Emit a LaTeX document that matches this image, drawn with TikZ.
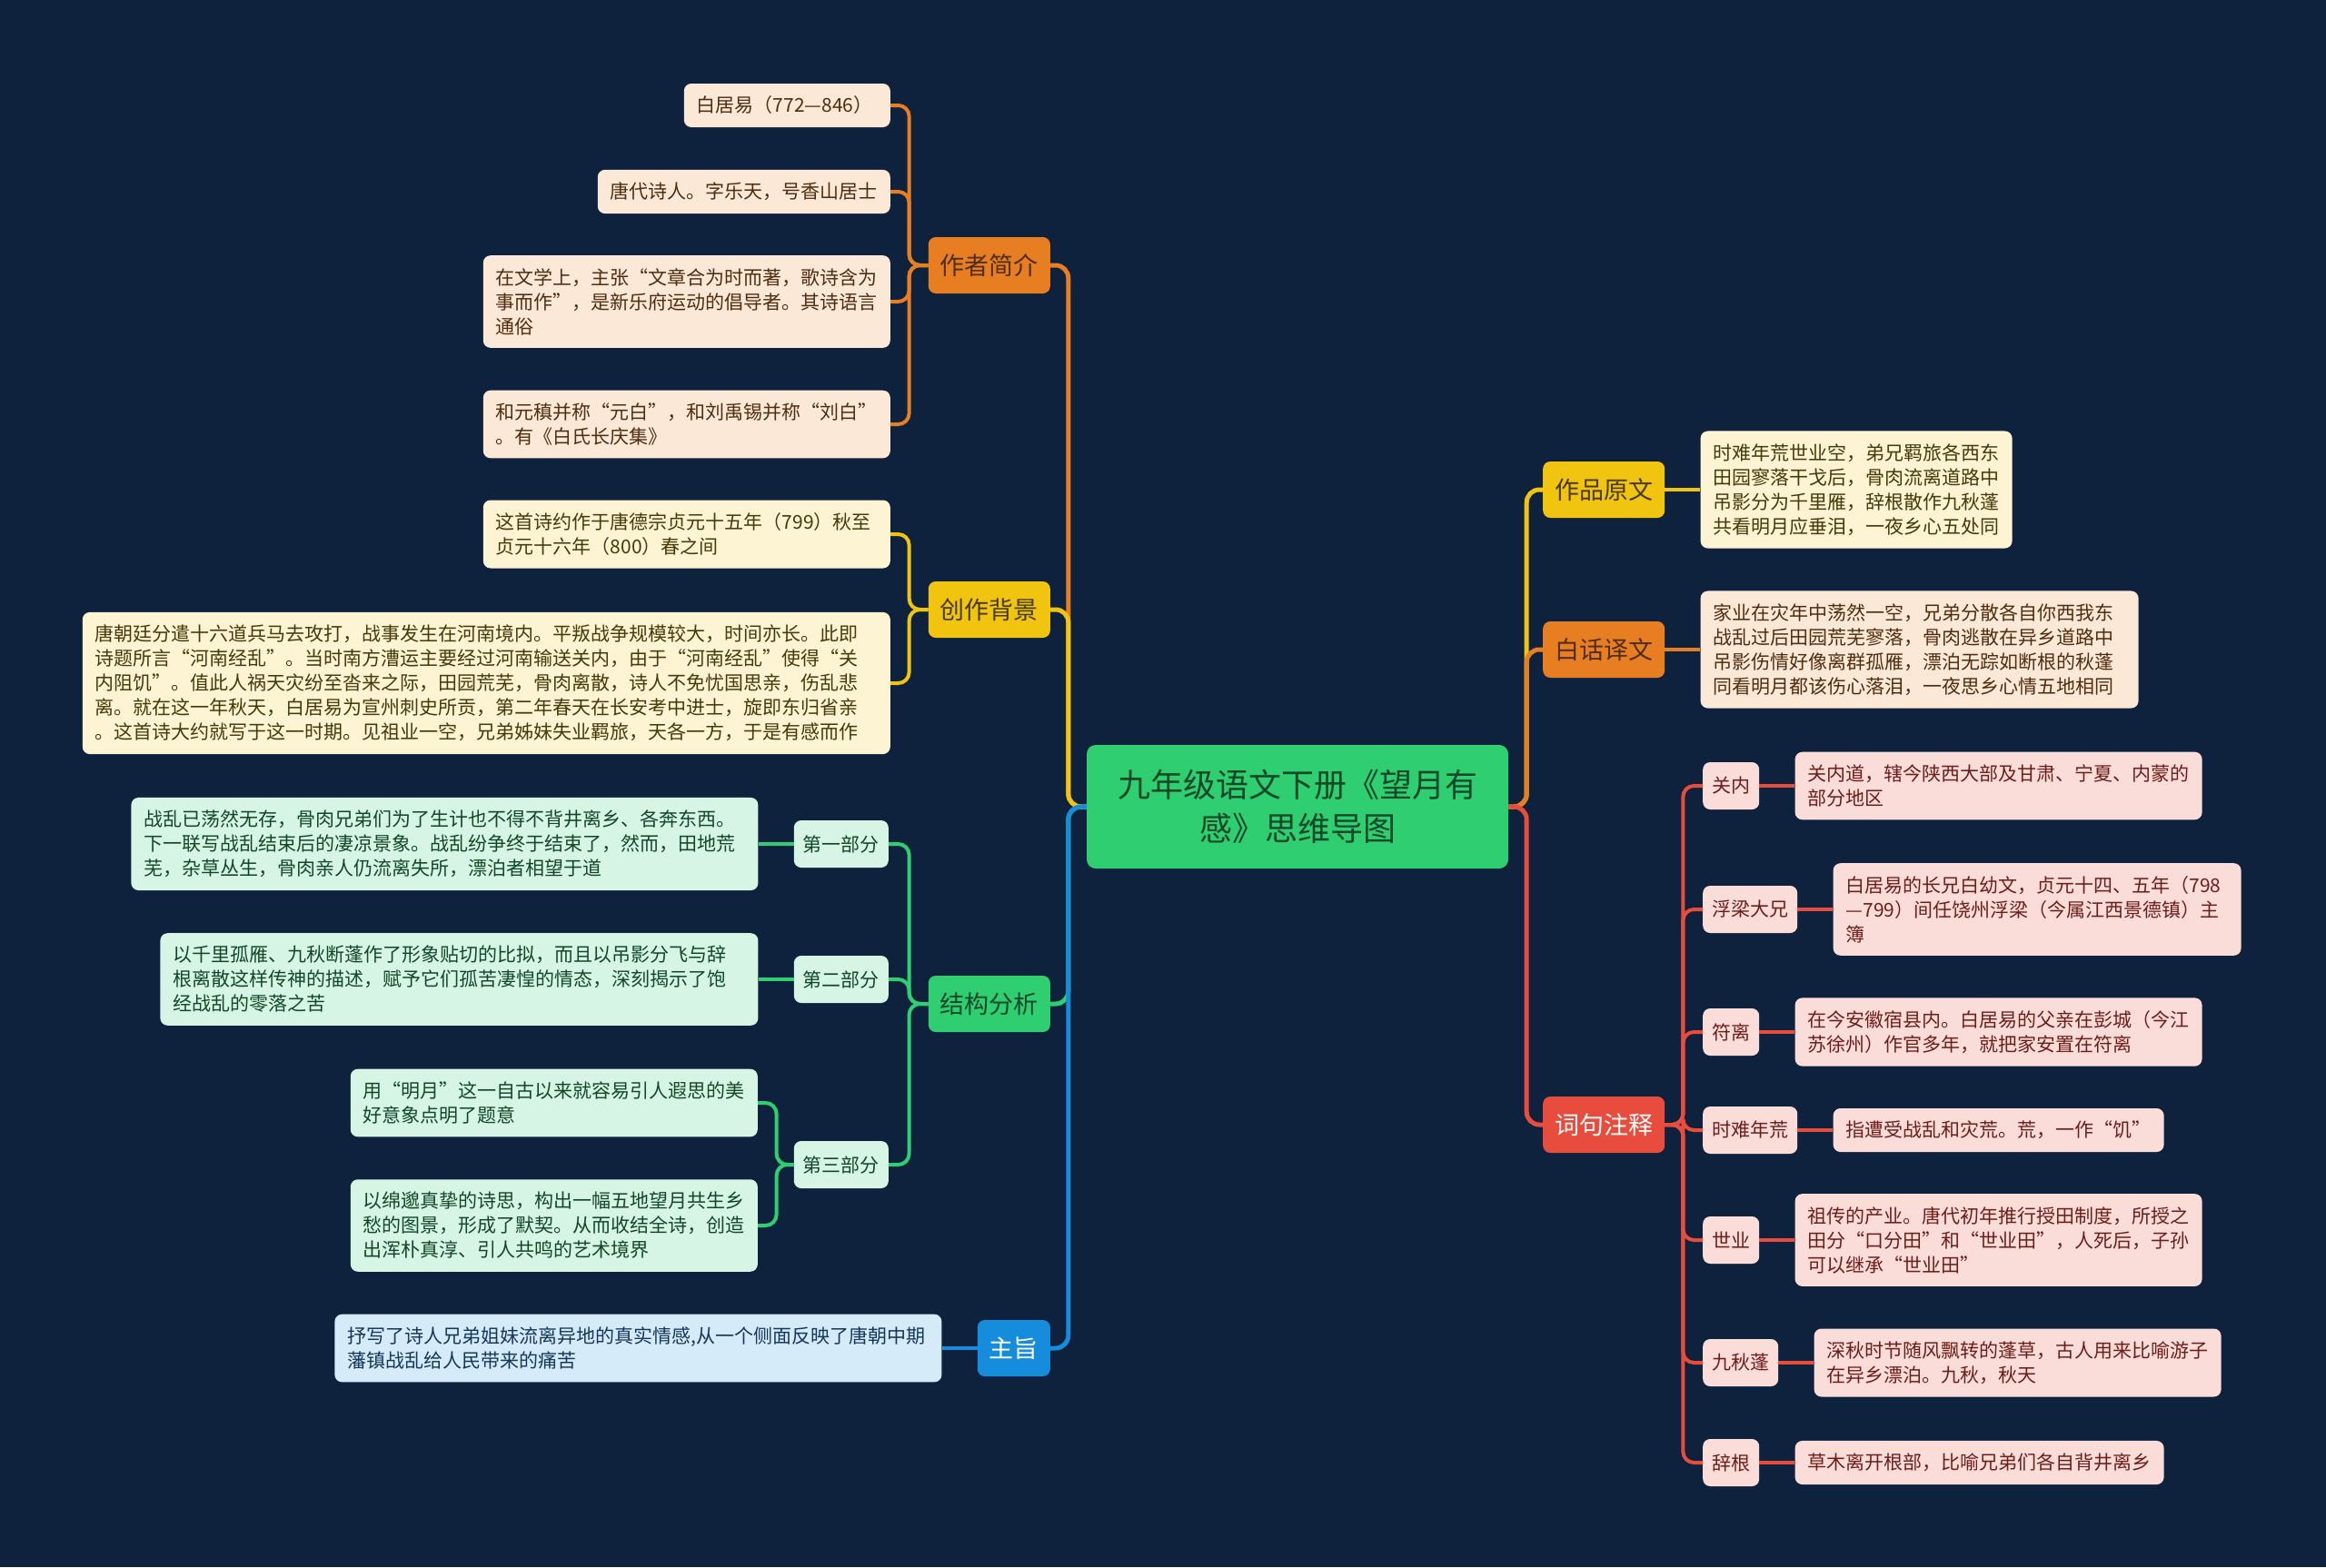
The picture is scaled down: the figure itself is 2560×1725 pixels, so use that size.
\documentclass[tikz,border=0pt]{standalone}
\usepackage{fontspec}
\setmainfont{Noto Sans CJK SC}
\usetikzlibrary{calc}
\definecolor{bgc}{RGB}{14,33,61}
\definecolor{orgc}{RGB}{231,126,34}
\definecolor{ylwc}{RGB}{241,196,15}
\definecolor{grnc}{RGB}{46,206,113}
\definecolor{bluc}{RGB}{22,140,220}
\definecolor{redc}{RGB}{231,76,60}
\definecolor{orgl}{RGB}{252,232,215}
\definecolor{ylwl}{RGB}{252,244,210}
\definecolor{grnl}{RGB}{214,245,228}
\definecolor{blul}{RGB}{214,235,249}
\definecolor{redl}{RGB}{250,220,217}
\definecolor{orgt}{RGB}{80,45,15}
\definecolor{ylwt}{RGB}{70,58,10}
\definecolor{grnt}{RGB}{18,72,40}
\definecolor{blut}{RGB}{20,55,90}
\definecolor{redt}{RGB}{110,30,25}
\begin{document}
\begin{tikzpicture}[x=1pt,y=-1pt,
  mainbox/.style={rounded corners=8pt, inner xsep=13pt, inner ysep=0pt, minimum height=62pt, font=\fontsize{27}{32}\selectfont},
  leafbox/.style={rounded corners=8pt, inner xsep=14pt, inner ysep=14pt, align=left, font=\fontsize{21}{27}\selectfont},
  termbox/.style={rounded corners=8pt, inner xsep=10pt, inner ysep=0pt, minimum height=52pt, font=\fontsize{21}{27}\selectfont},
  link/.style={line width=4pt, rounded corners=12pt},
  rootlink/.style={line width=5pt, rounded corners=14pt},
  oleaf/.style={leafbox, fill=orgl, text=orgt},
  yleaf/.style={leafbox, fill=ylwl, text=ylwt},
  gleaf/.style={leafbox, fill=grnl, text=grnt},
  bleaf/.style={leafbox, fill=blul, text=blut},
  rleaf/.style={leafbox, fill=redl, text=redt},
  gterm/.style={termbox, fill=grnl, text=grnt},
  rterm/.style={termbox, fill=redl, text=redt}
]
\fill[bgc] (0,0) rectangle (2560,1725);
\useasboundingbox (0,0) rectangle (2560,1725);

% root
\node[fill=grnc, text=grnt, rounded corners=10pt, minimum width=464pt, minimum height=136pt, align=center, font=\fontsize{36}{48}\selectfont] (root) at (1428,888) {九年级语文下册《望月有\\感》思维导图};

% main branches
\node[mainbox, fill=orgc, text=orgt, anchor=east] (zz) at (1156,292) {作者简介};
\node[mainbox, fill=ylwc, text=ylwt, anchor=east] (bj) at (1156,671) {创作背景};
\node[mainbox, fill=grnc, text=grnt, anchor=east] (jg) at (1156,1105) {结构分析};
\node[mainbox, fill=bluc, text=white, anchor=east] (zh) at (1156,1484) {主旨};
\node[mainbox, fill=ylwc, text=ylwt, anchor=west] (yw) at (1698,539) {作品原文};
\node[mainbox, fill=orgc, text=orgt, anchor=west] (bh) at (1698,715) {白话译文};
\node[mainbox, fill=redc, text=white, anchor=west] (zs) at (1698,1238) {词句注释};

% 作者简介 leaves
\node[oleaf, anchor=east, text width=199pt] (z1) at (980,116) {白居易（772—846）};
\node[oleaf, anchor=east] (z2) at (980,211) {唐代诗人。字乐天，号香山居士};
\node[oleaf, anchor=east] (z3) at (980,332) {在文学上，主张“文章合为时而著，歌诗含为\\事而作”，是新乐府运动的倡导者。其诗语言\\通俗};
\node[oleaf, anchor=east] (z4) at (980,467) {和元稹并称“元白”，和刘禹锡并称“刘白”\\。有《白氏长庆集》};

% 创作背景 leaves
\node[yleaf, anchor=east, text width=420pt] (b1) at (980,588) {这首诗约作于唐德宗贞元十五年（799）秋至\\贞元十六年（800）春之间};
\node[yleaf, anchor=east, text width=861pt] (b2) at (980,752) {唐朝廷分遣十六道兵马去攻打，战事发生在河南境内。平叛战争规模较大，时间亦长。此即\\诗题所言“河南经乱”。当时南方漕运主要经过河南输送关内，由于“河南经乱”使得“关\\内阻饥”。值此人祸天灾纷至沓来之际，田园荒芜，骨肉离散，诗人不免忧国思亲，伤乱悲\\离。就在这一年秋天，白居易为宣州刺史所贡，第二年春天在长安考中进士，旋即东归省亲\\。这首诗大约就写于这一时期。见祖业一空，兄弟姊妹失业羁旅，天各一方，于是有感而作};

% 结构分析
\node[gterm, anchor=east] (s1) at (978,929) {第一部分};
\node[gterm, anchor=east] (s2) at (978,1078) {第二部分};
\node[gterm, anchor=east] (s3) at (978,1282) {第三部分};
\node[gleaf, anchor=east, text width=662pt] (s1l) at ([xshift=-39pt]s1.west) {战乱已荡然无存，骨肉兄弟们为了生计也不得不背井离乡、各奔东西。\\下一联写战乱结束后的凄凉景象。战乱纷争终于结束了，然而，田地荒\\芜，杂草丛生，骨肉亲人仍流离失所，漂泊者相望于道};
\node[gleaf, anchor=east, text width=630pt] (s2l) at ([xshift=-39pt]s2.west) {以千里孤雁、九秋断蓬作了形象贴切的比拟，而且以吊影分飞与辞\\根离散这样传神的描述，赋予它们孤苦凄惶的情态，深刻揭示了饱\\经战乱的零落之苦};
\node[gleaf, anchor=east] (s3a) at (834,1214) {用“明月”这一自古以来就容易引人遐思的美\\好意象点明了题意};
\node[gleaf, anchor=east] (s3b) at (834,1349) {以绵邈真挚的诗思，构出一幅五地望月共生乡\\愁的图景，形成了默契。从而收结全诗，创造\\出浑朴真淳、引人共鸣的艺术境界};

% 主旨
\node[bleaf, anchor=east, text width=640pt] (zhl) at ([xshift=-39pt]zh.west) {抒写了诗人兄弟姐妹流离异地的真实情感,从一个侧面反映了唐朝中期\\藩镇战乱给人民带来的痛苦};

% right leaves
\node[yleaf, anchor=west] (ywl) at ([xshift=39pt]yw.east) {时难年荒世业空，弟兄羁旅各西东\\田园寥落干戈后，骨肉流离道路中\\吊影分为千里雁，辞根散作九秋蓬\\共看明月应垂泪，一夜乡心五处同};
\node[oleaf, anchor=west, text width=454pt] (bhl) at ([xshift=39pt]bh.east) {家业在灾年中荡然一空，兄弟分散各自你西我东\\战乱过后田园荒芜寥落，骨肉逃散在异乡道路中\\吊影伤情好像离群孤雁，漂泊无踪如断根的秋蓬\\同看明月都该伤心落泪，一夜思乡心情五地相同};

% 词句注释
\node[rterm, anchor=west] (t1) at (1874,865) {关内};
\node[rterm, anchor=west] (t2) at (1874,1001) {浮梁大兄};
\node[rterm, anchor=west] (t3) at (1874,1136) {符离};
\node[rterm, anchor=west] (t4) at (1874,1244) {时难年荒};
\node[rterm, anchor=west] (t5) at (1874,1365) {世业};
\node[rterm, anchor=west] (t6) at (1874,1500) {九秋蓬};
\node[rterm, anchor=west] (t7) at (1874,1610) {辞根};
\node[rleaf, anchor=west] (t1l) at ([xshift=39pt]t1.east) {关内道，辖今陕西大部及甘肃、宁夏、内蒙的\\部分地区};
\node[rleaf, anchor=west, text width=421pt] (t2l) at ([xshift=39pt]t2.east) {白居易的长兄白幼文，贞元十四、五年（798\\—799）间任饶州浮梁（今属江西景德镇）主\\簿};
\node[rleaf, anchor=west] (t3l) at ([xshift=39pt]t3.east) {在今安徽宿县内。白居易的父亲在彭城（今江\\苏徐州）作官多年，就把家安置在符离};
\node[rleaf, anchor=west] (t4l) at ([xshift=39pt]t4.east) {指遭受战乱和灾荒。荒，一作“饥”};
\node[rleaf, anchor=west] (t5l) at ([xshift=39pt]t5.east) {祖传的产业。唐代初年推行授田制度，所授之\\田分“口分田”和“世业田”，人死后，子孙\\可以继承“世业田”};
\node[rleaf, anchor=west] (t6l) at ([xshift=39pt]t6.east) {深秋时节随风飘转的蓬草，古人用来比喻游子\\在异乡漂泊。九秋，秋天};
\node[rleaf, anchor=west] (t7l) at ([xshift=39pt]t7.east) {草木离开根部，比喻兄弟们各自背井离乡};

% root connectors
\draw[rootlink, orgc] (root.west) -- ++(-20,0) |- (zz.east);
\draw[rootlink, ylwc] (root.west) -- ++(-20,0) |- (bj.east);
\draw[rootlink, grnc] (root.west) -- ++(-20,0) |- (jg.east);
\draw[rootlink, bluc] (root.west) -- ++(-20,0) |- (zh.east);
\draw[rootlink, ylwc] (root.east) -- ++(20,0) |- (yw.west);
\draw[rootlink, orgc] (root.east) -- ++(20,0) |- (bh.west);
\draw[rootlink, redc] (root.east) -- ++(20,0) |- (zs.west);

% branch connectors
\foreach \n in {z1,z2,z3,z4}{\draw[link, orgc] (zz.west) -- ++(-21,0) |- (\n.east);}
\foreach \n in {b1,b2}{\draw[link, ylwc] (bj.west) -- ++(-21,0) |- (\n.east);}
\foreach \n in {s1,s2,s3}{\draw[link, grnc] (jg.west) -- ++(-21,0) |- (\n.east);}
\draw[link, grnc] (s1.west) -- (s1l.east);
\draw[link, grnc] (s2.west) -- (s2l.east);
\foreach \n in {s3a,s3b}{\draw[link, grnc] (s3.west) -- ++(-19,0) |- (\n.east);}
\draw[link, bluc] (zh.west) -- (zhl.east);
\draw[link, ylwc] (yw.east) -- (ywl.west);
\draw[link, orgc] (bh.east) -- (bhl.west);
\foreach \n in {t1,t2,t3,t4,t5,t6,t7}{\draw[link, redc] (zs.east) -- ++(20,0) |- (\n.west);}
\foreach \n in {t1,t2,t3,t4,t5,t6,t7}{\draw[link, redc] (\n.east) -- (\n l.west);}
\end{tikzpicture}
\end{document}
